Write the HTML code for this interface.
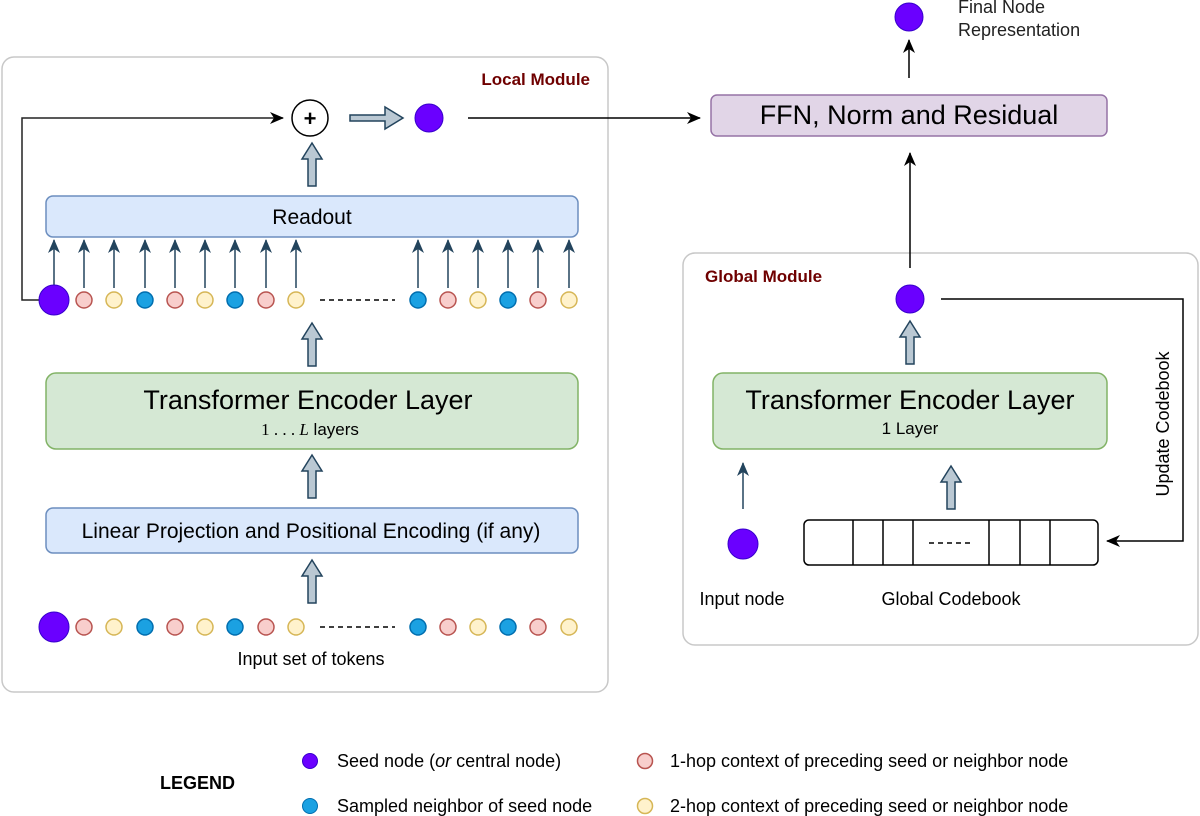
<!DOCTYPE html>
<html><head><meta charset="utf-8"><style>
html,body{margin:0;padding:0;background:#fff}
svg{display:block}
text{font-family:"Liberation Sans",Arial,sans-serif}
</style></head><body>
<svg width="1200" height="816" viewBox="0 0 1200 816" xmlns="http://www.w3.org/2000/svg">
<defs>
<marker id="ab" markerWidth="14" markerHeight="14" refX="13" refY="7" orient="auto" markerUnits="userSpaceOnUse"><path d="M0,1 L14,7 L0,13 L4,7 Z" fill="#000"/></marker>
<marker id="ad" markerWidth="14" markerHeight="14" refX="13" refY="7" orient="auto" markerUnits="userSpaceOnUse"><path d="M0,1 L14,7 L0,13 L4,7 Z" fill="#23445d"/></marker>
<g id="bup"><path d="M-4,0 L-4,-27 L-10,-27 L0,-43 L10,-27 L4,-27 L4,0 Z" fill="#bac8d3" stroke="#23445d" stroke-width="1.5"/></g>
</defs>
<rect x="2" y="57" width="606" height="635" rx="12" fill="#fff" stroke="#c8c8c8" stroke-width="1.5"/>
<rect x="683" y="253" width="515" height="392" rx="12" fill="#fff" stroke="#c8c8c8" stroke-width="1.5"/>
<text x="590" y="85" font-size="17" font-weight="bold" fill="#6f0000" text-anchor="end">Local Module</text>
<text x="705" y="282" font-size="17" font-weight="bold" fill="#6f0000">Global Module</text>

<polyline points="39,300 22,300 22,118 283,118" fill="none" stroke="#222" stroke-width="1.5" marker-end="url(#ab)"/>
<circle cx="310" cy="118" r="18" fill="#fff" stroke="#000" stroke-width="1.5"/>
<text x="310" y="126" font-size="22" font-weight="bold" text-anchor="middle">+</text>
<path d="M350,115 L385,115 L385,107 L403,118 L385,129 L385,121 L350,121 Z" fill="#bac8d3" stroke="#23445d" stroke-width="1.5"/>
<circle cx="429" cy="118" r="14" fill="#6a00ff" stroke="#3700cc"/>
<line x1="468" y1="118" x2="700" y2="118" stroke="#000" stroke-width="1.5" marker-end="url(#ab)"/>
<use href="#bup" x="312" y="186"/>

<rect x="46" y="196" width="532" height="41" rx="7" fill="#dae8fc" stroke="#6c8ebf" stroke-width="1.5"/>
<text x="312" y="224" font-size="21" text-anchor="middle">Readout</text>

<g stroke="#23445d" stroke-width="1.5" marker-end="url(#ad)">
<line x1="54" y1="285" x2="54" y2="240"/><line x1="84" y1="288" x2="84" y2="240"/><line x1="114" y1="288" x2="114" y2="240"/><line x1="145" y1="288" x2="145" y2="240"/><line x1="175" y1="288" x2="175" y2="240"/><line x1="205" y1="288" x2="205" y2="240"/><line x1="235" y1="288" x2="235" y2="240"/><line x1="266" y1="288" x2="266" y2="240"/><line x1="296" y1="288" x2="296" y2="240"/>
<line x1="418" y1="288" x2="418" y2="240"/><line x1="448" y1="288" x2="448" y2="240"/><line x1="478" y1="288" x2="478" y2="240"/><line x1="508" y1="288" x2="508" y2="240"/><line x1="538" y1="288" x2="538" y2="240"/><line x1="569" y1="288" x2="569" y2="240"/>
</g>

<g id="row">
<circle cx="54" cy="300" r="15" fill="#6a00ff" stroke="#3700cc"/>
<circle cx="84" cy="300" r="8" fill="#f8cecc" stroke="#b85450" stroke-width="1.5"/>
<circle cx="114" cy="300" r="8" fill="#fff2cc" stroke="#d6b656" stroke-width="1.5"/>
<circle cx="145" cy="300" r="8" fill="#1ba1e2" stroke="#006eaf" stroke-width="1.5"/>
<circle cx="175" cy="300" r="8" fill="#f8cecc" stroke="#b85450" stroke-width="1.5"/>
<circle cx="205" cy="300" r="8" fill="#fff2cc" stroke="#d6b656" stroke-width="1.5"/>
<circle cx="235" cy="300" r="8" fill="#1ba1e2" stroke="#006eaf" stroke-width="1.5"/>
<circle cx="266" cy="300" r="8" fill="#f8cecc" stroke="#b85450" stroke-width="1.5"/>
<circle cx="296" cy="300" r="8" fill="#fff2cc" stroke="#d6b656" stroke-width="1.5"/>
<line x1="320" y1="300" x2="395" y2="300" stroke="#000" stroke-width="1.5" stroke-dasharray="5,4"/>
<circle cx="418" cy="300" r="8" fill="#1ba1e2" stroke="#006eaf" stroke-width="1.5"/>
<circle cx="448" cy="300" r="8" fill="#f8cecc" stroke="#b85450" stroke-width="1.5"/>
<circle cx="478" cy="300" r="8" fill="#fff2cc" stroke="#d6b656" stroke-width="1.5"/>
<circle cx="508" cy="300" r="8" fill="#1ba1e2" stroke="#006eaf" stroke-width="1.5"/>
<circle cx="538" cy="300" r="8" fill="#f8cecc" stroke="#b85450" stroke-width="1.5"/>
<circle cx="569" cy="300" r="8" fill="#fff2cc" stroke="#d6b656" stroke-width="1.5"/>
</g>
<use href="#row" x="0" y="327"/>

<use href="#bup" x="312" y="366"/>
<rect x="46" y="373" width="532" height="76" rx="10" fill="#d5e8d4" stroke="#82b366" stroke-width="1.5"/>
<text x="308" y="409" font-size="27" text-anchor="middle">Transformer Encoder Layer</text>
<text x="310" y="435" font-size="17" text-anchor="middle"><tspan font-family="Liberation Serif,serif">1 . . . <tspan font-style="italic">L</tspan></tspan> layers</text>
<use href="#bup" x="312" y="498"/>
<rect x="46" y="508" width="532" height="45" rx="7" fill="#dae8fc" stroke="#6c8ebf" stroke-width="1.5"/>
<text x="311" y="538" font-size="21" text-anchor="middle">Linear Projection and Positional Encoding (if any)</text>
<use href="#bup" x="312" y="603"/>
<text x="311" y="665" font-size="18" text-anchor="middle">Input set of tokens</text>

<circle cx="909" cy="17" r="14" fill="#6a00ff" stroke="#3700cc"/>
<text x="958" y="13" font-size="18" fill="#222">Final Node</text>
<text x="958" y="36" font-size="18" fill="#222">Representation</text>
<line x1="909" y1="78" x2="909" y2="40" stroke="#000" stroke-width="1.5" marker-end="url(#ab)"/>
<rect x="711" y="95" width="396" height="41" rx="6" fill="#e1d5e7" stroke="#9673a6" stroke-width="1.5"/>
<text x="909" y="124" font-size="27" text-anchor="middle">FFN, Norm and Residual</text>
<line x1="910" y1="268" x2="910" y2="153" stroke="#000" stroke-width="1.5" marker-end="url(#ab)"/>

<circle cx="910" cy="299" r="14" fill="#6a00ff" stroke="#3700cc"/>
<polyline points="941,299 1183,299 1183,541 1107,541" fill="none" stroke="#000" stroke-width="1.5" marker-end="url(#ab)"/>
<text transform="translate(1169,424) rotate(-90)" font-size="18" text-anchor="middle">Update Codebook</text>
<use href="#bup" x="910" y="364"/>
<rect x="713" y="373" width="394" height="76" rx="10" fill="#d5e8d4" stroke="#82b366" stroke-width="1.5"/>
<text x="910" y="409" font-size="27" text-anchor="middle">Transformer Encoder Layer</text>
<text x="910" y="434" font-size="17" text-anchor="middle">1 Layer</text>
<line x1="743" y1="509" x2="743" y2="463" stroke="#23445d" stroke-width="1.5" marker-end="url(#ad)"/>
<use href="#bup" x="951" y="509"/>
<circle cx="743" cy="544" r="15" fill="#6a00ff" stroke="#3700cc"/>
<rect x="804" y="520" width="294" height="45" rx="5" fill="#fff" stroke="#000" stroke-width="1.5"/>
<g stroke="#000" stroke-width="1.5"><line x1="853" y1="520" x2="853" y2="565"/><line x1="883" y1="520" x2="883" y2="565"/><line x1="913" y1="520" x2="913" y2="565"/><line x1="989" y1="520" x2="989" y2="565"/><line x1="1020" y1="520" x2="1020" y2="565"/><line x1="1050" y1="520" x2="1050" y2="565"/></g>
<line x1="929" y1="543" x2="972" y2="543" stroke="#000" stroke-width="1.5" stroke-dasharray="5,4"/>
<text x="742" y="605" font-size="18" text-anchor="middle">Input node</text>
<text x="951" y="605" font-size="18" text-anchor="middle">Global Codebook</text>

<text x="160" y="789" font-size="18" font-weight="bold">LEGEND</text>
<circle cx="310" cy="761" r="7.5" fill="#6a00ff" stroke="#3700cc"/>
<circle cx="310" cy="806" r="7.5" fill="#1ba1e2" stroke="#006eaf"/>
<circle cx="645" cy="761" r="7.5" fill="#f8cecc" stroke="#b85450" stroke-width="1.5"/>
<circle cx="645" cy="806" r="7.5" fill="#fff2cc" stroke="#d6b656" stroke-width="1.5"/>
<text x="337" y="767" font-size="18">Seed node (<tspan font-style="italic">or</tspan> central node)</text>
<text x="337" y="812" font-size="18">Sampled neighbor of seed node</text>
<text x="670" y="767" font-size="18">1-hop context of preceding seed or neighbor node</text>
<text x="670" y="812" font-size="18">2-hop context of preceding seed or neighbor node</text>
</svg>
</body></html>
